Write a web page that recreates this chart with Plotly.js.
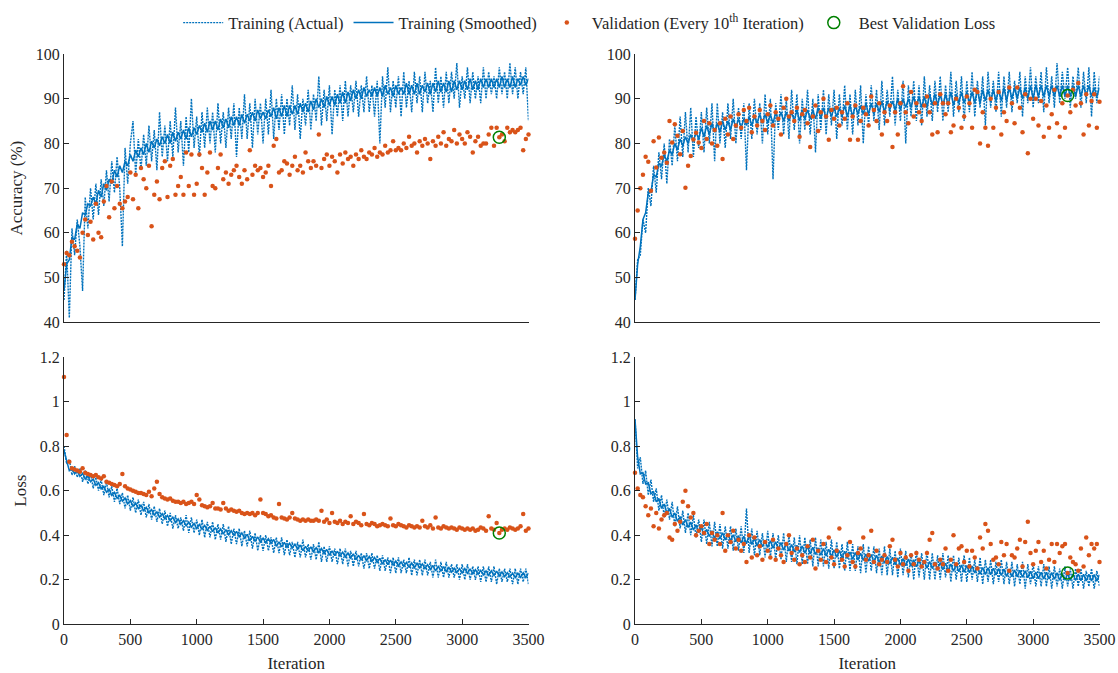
<!DOCTYPE html>
<html>
<head>
<meta charset="utf-8">
<script src="https://cdn.plot.ly/plotly-3.0.1.min.js"></script>
<style>html,body{margin:0;padding:0;background:#fff;}#chart{width:1118px;height:673px;}</style>
</head>
<body>
<div id="chart"></div>
<script>
// ---- iteration sampling ----
const TRAIN_STEP = 20;
const SMOOTH_STEP = 20;
const VAL_STEP = 20;

// ---- Accuracy, left run ----
const accTrainL = [
45,56,41,61,55,63,57,47,68,61,
70,63,71,64,72,66,74,67,76,69,
77,70,57,79,71,80,85,73,81,74,
82,75,84,76,83,74,87,77,84,76,
85,77,88,78,85,75,86,78,90,79,
86,77,87,79,88,80,87,78,89,80,
87,79,88,81,89,77,88,81,91,81,
89,79,90,82,89,80,90,82,92,81,
90,83,91,82,90,84,93,83,91,81,
90,84,92,83,91,85,95,84,92,85,
93,82,92,86,93,85,94,86,93,87,
94,86,93,87,95,87,93,86,94,80,
95,88,97,87,94,88,95,86,96,88,
94,87,96,89,95,87,96,89,94,87,
97,89,95,88,96,89,96,90,98,88,
95,90,97,89,96,90,95,89,97,90,
96,91,95,90,97,91,96,90,98,91,
97,90,96,91,97,85];
const accSmoothL = [
47,53,54,59,58.5,62,61,64.5,64,66.5,
66,68,66.5,69.5,68,71,69.5,72,71,74,
72.5,75,73.5,76,75,77.5,76,78.5,77,79,
77.5,80,78,80.5,79,81,79.5,81.5,80,82,
80,82.5,80.5,82.5,81,83,81,83.5,81.5,83.5,
82,84,82.5,84.5,82.5,85,83,85,83,85.5,
83.5,85.5,83.5,86,84,86,84,86.5,84.5,86.5,
85,87,85,87.5,85.5,87,85.5,87.5,86,88,
85.5,88,86,88.5,86,88.5,86.5,88.5,86.5,89,
87,89,87,89.5,87.5,90,88,90,88,90.5,
88.5,90.5,88.5,91,89,91.5,89,91.5,89.5,92,
90,92,90,92.5,90.5,92,90.5,92.5,90.5,92.5,
90.5,93,91,92.5,90.5,93,91,92.5,91,93.5,
91,93,91,93.5,91,93,91.5,93.5,91,93.5,
91.5,94,91.5,93.5,91.5,94,91.5,94,92,94,
92,94,92,94.5,92,94,92,94.5,92.5,94.5,
92.5,94.5,92.5,94.5,92.5,95,92.5,94.5,92.5,95,
92.5,94.5,93,95,93,94.5];
const accValL = [
53,55.5,55,58,57,56,54.5,60,63,59.5,
62.5,58.5,66.5,60,59,67,70.5,63.5,71.5,65.5,
70.5,66.5,65.5,67,68,73.5,67.5,73,65.5,74.5,
72,70,75,61.5,68.5,71.5,67.5,74.5,76,68,
75,76.5,68.5,70.5,72.5,68.5,78,70.5,77.5,68.5,
71,77.5,74.5,68.5,73.5,78,70.5,70,74.5,77.5,
72,73.5,71,73,74,75,72.5,71,74,72,
78.5,73,75,74,74.5,72.5,73.5,75,70.5,79.5,
81,73.5,74,76,75.5,73,75,77,74,75,
73.5,78,76,74.5,76,75,82,74.5,76.5,77.5,
75,77,76,73.5,77.5,75.5,78,76.5,77,75,
77.5,76.5,78.5,77,76.5,78,77.5,79,77,78,
77.5,79.5,78,78.5,80.5,78.5,79,78.5,80,79,
81.5,79.5,80,78,80.5,79.5,81,80,76.5,80.5,
79.5,81.5,80,82.5,79.5,81,80.5,83,80,82,
81,80,82.5,81.5,78,80.5,81.5,79.5,80,80,
82,83.5,79.5,83.5,81.4,82,80.5,83.5,82.5,83,
82.5,83,83.5,78.5,81,82];

// ---- Accuracy, right run ----
const accTrainR = [
45,54,55,63,60,70,66,75,69,78,
72,80,71,81,75,84,76,86,77,87,
78,88,77,86,79,87,78,88,80,89,
76,89,80,87,79,89,81,90,80,88,
81,89,74,89,81,90,82,89,80,91,
82,90,72,89,83,91,82,90,81,92,
83,91,80,90,83,92,82,90,78,91,
83,92,82,91,84,92,81,91,84,93,
83,91,82,92,84,93,80,91,84,93,
85,92,83,94,84,92,86,95,84,92,
85,94,80,93,86,94,85,93,84,95,
86,93,85,94,87,95,85,93,87,96,
86,94,87,95,85,94,87,96,86,94,
88,95,84,96,88,94,87,96,86,95,
88,96,87,94,89,96,86,95,89,97,
88,95,89,96,87,97,89,95,88,98,
89,96,90,97,88,95,90,97,88,96,
89,97,86,96,89,95];
const accSmoothR = [
45,53,57,63,64.5,69,69,73,72.5,75.5,
75,77.5,76,78.5,77.5,80,78.5,81,79.5,81.5,
80,82,80.5,82.5,81,83.5,81.5,84,82,84.5,
82.5,84.5,82.5,85,83,85,83,85.5,83.5,85.5,
83.5,85.5,84,86,84,86,84.5,86.5,84.5,86.5,
84.5,86.5,84.5,87,85,87,85,87,85,87,
85,87.5,85,87.5,85.5,87.5,85.5,87.5,85.5,88,
85.5,88,85.5,88,86,88,86,88,86,88.5,
86,88.5,86,88.5,86.5,88.5,86.5,89,86.5,89,
86.5,89,87,89.5,87,89.5,87.5,89.5,87.5,90,
87.5,90,88,90,88,90.5,88,90.5,88,90.5,
88,91,88.5,91,88.5,91,88.5,91,88.5,91.5,
88.5,91,89,91.5,89,91.5,89,91.5,89,92,
89,92,89.5,92,89.5,92,89.5,92,89.5,92.5,
89.5,92.5,90,92.5,90,92.5,90,92.5,90,93,
90,93,90.5,93,90.5,93,90.5,93,90.5,93,
90.5,93,90.5,93,90.5,93,90.5,93,90.5,93,
90.5,93,90.5,92.5,90.5,92.5];
const accValR = [
58.7,65,70,73,77,75.9,69.4,80.5,74.6,81.3,
76.8,78,75.7,85,80.2,84.3,81.7,77.6,82.8,70.1,
75,77.2,80.9,82.4,80.2,79,85,81,84.5,80,
83,79.5,84.5,76.5,85.5,82,86,81,84,86.5,
83.5,87.5,85,88,82.5,86,84,87.5,85,83,
86.5,88.5,84,87,85.5,82,88,90,86,87,
85,88,81.5,86.5,87.5,84.5,79.2,86,88.5,82.8,
87,90,86,80.8,87.5,85.5,88,84,87,85.5,
89,80.8,86,88.5,80.8,85,88,86.5,84,90.5,
87.5,85,89,82,87,85,88.5,79.2,87,82,
89,92.8,87,84.5,91.5,86,89,87,85,88.5,
90.5,87,82,89,82.5,91,89,86.5,89,82.5,
84,90,88,83.5,86,90.5,89,83.5,92,91.5,
80,87,83.5,79.5,90,83.5,88,91.5,82,87,
85,92.5,89,84.5,92.5,88,82.5,91,77.8,90,
85.5,90,84,89.5,81.5,88.5,83.5,86.5,92,84.5,
81.5,89,83.5,90.7,87,92,88.5,93.5,89,82,
91,84,89.5,91,83.5,89.3];

// ---- Loss, left run ----
const lossTrainL = [
0.80,0.72,0.74,0.67,0.71,0.66,0.70,0.64,0.69,0.63,
0.68,0.61,0.66,0.60,0.65,0.58,0.64,0.57,0.62,0.55,
0.61,0.54,0.59,0.52,0.58,0.51,0.57,0.50,0.56,0.49,
0.55,0.48,0.54,0.47,0.53,0.46,0.52,0.45,0.51,0.44,
0.50,0.43,0.49,0.43,0.48,0.42,0.49,0.41,0.48,0.41,
0.47,0.40,0.47,0.39,0.46,0.39,0.46,0.38,0.45,0.38,
0.45,0.37,0.44,0.36,0.43,0.36,0.43,0.35,0.42,0.35,
0.42,0.34,0.41,0.33,0.40,0.33,0.40,0.33,0.39,0.32,
0.39,0.32,0.39,0.31,0.38,0.31,0.37,0.30,0.37,0.30,
0.38,0.30,0.36,0.29,0.36,0.29,0.37,0.28,0.35,0.28,
0.35,0.28,0.34,0.27,0.34,0.27,0.34,0.26,0.33,0.26,
0.33,0.26,0.32,0.25,0.32,0.25,0.32,0.25,0.31,0.24,
0.31,0.24,0.30,0.23,0.30,0.23,0.30,0.23,0.29,0.23,
0.30,0.22,0.29,0.22,0.29,0.22,0.29,0.22,0.28,0.21,
0.29,0.21,0.28,0.21,0.28,0.21,0.27,0.21,0.27,0.20,
0.27,0.20,0.27,0.20,0.26,0.20,0.26,0.19,0.26,0.19,
0.26,0.19,0.26,0.18,0.25,0.19,0.25,0.19,0.25,0.18,
0.25,0.18,0.25,0.19,0.25,0.18];
const lossSmoothL = [
0.78,0.74,0.69,0.70,0.675,0.69,0.664,0.678,0.652,0.666,
0.64,0.652,0.624,0.636,0.608,0.62,0.593,0.606,0.579,0.592,
0.565,0.579,0.553,0.567,0.541,0.555,0.53,0.545,0.52,0.535,
0.51,0.525,0.50,0.515,0.49,0.505,0.481,0.497,0.473,0.489,
0.465,0.481,0.457,0.473,0.449,0.465,0.442,0.459,0.436,0.453,
0.43,0.448,0.426,0.444,0.422,0.44,0.416,0.434,0.41,0.428,
0.405,0.425,0.402,0.42,0.399,0.417,0.393,0.41,0.387,0.404,
0.375,0.395,0.372,0.392,0.369,0.387,0.366,0.384,0.363,0.381,
0.35,0.37,0.348,0.368,0.346,0.364,0.342,0.36,0.338,0.356,
0.33,0.35,0.328,0.348,0.326,0.344,0.322,0.34,0.318,0.336,
0.31,0.33,0.308,0.328,0.306,0.324,0.302,0.32,0.298,0.316,
0.29,0.31,0.288,0.308,0.286,0.304,0.282,0.30,0.278,0.296,
0.27,0.29,0.268,0.288,0.266,0.284,0.262,0.28,0.26,0.278,
0.255,0.275,0.254,0.274,0.253,0.271,0.25,0.268,0.246,0.264,
0.24,0.26,0.239,0.259,0.237,0.255,0.234,0.252,0.232,0.25,
0.23,0.25,0.229,0.249,0.227,0.245,0.224,0.242,0.222,0.24,
0.22,0.24,0.219,0.239,0.217,0.235,0.214,0.232,0.212,0.23,
0.21,0.23,0.211,0.231,0.21,0.23];
const lossValL = [
1.11,0.85,0.73,0.70,0.695,0.69,0.685,0.70,0.68,0.675,
0.67,0.665,0.67,0.66,0.655,0.665,0.64,0.635,0.63,0.625,
0.62,0.63,0.675,0.62,0.61,0.605,0.60,0.595,0.59,0.59,
0.585,0.58,0.595,0.575,0.61,0.64,0.585,0.57,0.565,0.56,
0.565,0.555,0.55,0.55,0.545,0.55,0.54,0.545,0.55,0.54,
0.58,0.56,0.535,0.53,0.525,0.53,0.545,0.52,0.52,0.515,
0.545,0.52,0.51,0.515,0.51,0.505,0.51,0.50,0.495,0.50,
0.495,0.50,0.49,0.50,0.56,0.50,0.495,0.485,0.49,0.48,
0.475,0.54,0.48,0.475,0.47,0.48,0.50,0.475,0.47,0.465,
0.47,0.465,0.47,0.465,0.465,0.47,0.465,0.51,0.46,0.47,
0.455,0.50,0.46,0.455,0.465,0.45,0.46,0.455,0.485,0.45,
0.46,0.455,0.445,0.495,0.45,0.445,0.455,0.45,0.44,0.445,
0.45,0.445,0.44,0.475,0.445,0.44,0.45,0.445,0.44,0.435,
0.445,0.44,0.435,0.44,0.435,0.465,0.44,0.435,0.445,0.43,
0.48,0.435,0.43,0.44,0.435,0.43,0.435,0.43,0.425,0.435,
0.43,0.425,0.43,0.425,0.43,0.42,0.425,0.435,0.43,0.42,
0.485,0.43,0.425,0.455,0.41,0.425,0.43,0.425,0.435,0.43,
0.425,0.43,0.44,0.495,0.42,0.43];

// ---- Loss, right run ----
const lossTrainR = [
0.92,0.70,0.75,0.63,0.69,0.58,0.65,0.55,0.61,0.51,
0.58,0.48,0.56,0.47,0.55,0.44,0.53,0.43,0.51,0.41,
0.50,0.40,0.49,0.39,0.47,0.37,0.47,0.36,0.46,0.35,
0.46,0.35,0.45,0.34,0.44,0.34,0.44,0.33,0.43,0.33,
0.44,0.32,0.52,0.32,0.43,0.31,0.42,0.31,0.41,0.30,
0.42,0.30,0.41,0.29,0.40,0.29,0.41,0.28,0.40,0.28,
0.39,0.27,0.40,0.27,0.39,0.27,0.38,0.26,0.39,0.26,
0.38,0.26,0.37,0.25,0.38,0.25,0.37,0.25,0.36,0.24,
0.37,0.24,0.36,0.24,0.35,0.23,0.36,0.23,0.35,0.24,
0.35,0.23,0.34,0.22,0.35,0.22,0.34,0.22,0.33,0.21,
0.34,0.22,0.33,0.21,0.32,0.20,0.33,0.21,0.32,0.20,
0.33,0.20,0.32,0.20,0.31,0.20,0.32,0.21,0.31,0.19,
0.31,0.20,0.30,0.19,0.31,0.19,0.30,0.20,0.29,0.19,
0.30,0.18,0.29,0.19,0.29,0.18,0.28,0.19,0.29,0.18,
0.28,0.18,0.28,0.17,0.27,0.18,0.28,0.16,0.27,0.18,
0.27,0.17,0.26,0.17,0.27,0.17,0.26,0.16,0.26,0.17,
0.25,0.16,0.26,0.17,0.25,0.16,0.25,0.17,0.25,0.16,
0.24,0.17,0.25,0.16,0.24,0.17];
const lossSmoothR = [
0.92,0.75,0.675,0.68,0.63,0.635,0.585,0.595,0.55,0.565,
0.52,0.54,0.50,0.52,0.48,0.50,0.462,0.484,0.446,0.47,
0.435,0.459,0.423,0.447,0.411,0.435,0.40,0.426,0.394,0.42,
0.385,0.415,0.383,0.411,0.379,0.405,0.375,0.402,0.371,0.398,
0.365,0.395,0.362,0.40,0.358,0.385,0.352,0.381,0.348,0.376,
0.345,0.375,0.341,0.371,0.337,0.367,0.333,0.363,0.329,0.358,
0.325,0.355,0.322,0.352,0.319,0.349,0.316,0.346,0.313,0.343,
0.31,0.34,0.307,0.337,0.304,0.334,0.301,0.331,0.298,0.328,
0.295,0.325,0.292,0.322,0.289,0.319,0.286,0.316,0.283,0.313,
0.28,0.31,0.277,0.307,0.274,0.304,0.271,0.301,0.268,0.298,
0.265,0.295,0.263,0.293,0.261,0.29,0.258,0.287,0.255,0.284,
0.252,0.282,0.25,0.28,0.248,0.277,0.245,0.274,0.242,0.271,
0.238,0.268,0.236,0.266,0.234,0.264,0.232,0.262,0.23,0.26,
0.225,0.255,0.224,0.254,0.223,0.252,0.221,0.25,0.219,0.248,
0.215,0.245,0.214,0.244,0.213,0.242,0.211,0.24,0.209,0.238,
0.205,0.235,0.205,0.234,0.204,0.233,0.203,0.232,0.202,0.231,
0.198,0.228,0.198,0.227,0.197,0.226,0.197,0.226,0.196,0.225,
0.195,0.224,0.195,0.223,0.194,0.222];
const lossValR = [
0.68,0.61,0.58,0.57,0.53,0.49,0.52,0.44,0.50,0.43,
0.47,0.49,0.50,0.39,0.38,0.45,0.42,0.46,0.55,0.60,
0.53,0.48,0.50,0.40,0.42,0.44,0.41,0.45,0.36,0.41,
0.38,0.40,0.36,0.50,0.33,0.40,0.37,0.42,0.34,0.38,
0.33,0.36,0.28,0.40,0.30,0.39,0.31,0.35,0.29,0.37,
0.33,0.30,0.38,0.29,0.34,0.31,0.28,0.36,0.40,0.32,
0.29,0.34,0.27,0.31,0.28,0.35,0.30,0.38,0.25,0.33,
0.29,0.36,0.28,0.39,0.30,0.27,0.33,0.43,0.29,0.26,
0.31,0.37,0.28,0.26,0.32,0.34,0.39,0.29,0.31,0.42,
0.28,0.33,0.27,0.29,0.31,0.28,0.35,0.38,0.29,0.26,
0.32,0.27,0.30,0.24,0.31,0.27,0.32,0.29,0.26,0.28,
0.32,0.38,0.41,0.27,0.25,0.29,0.27,0.34,0.24,0.29,
0.40,0.27,0.34,0.35,0.28,0.33,0.26,0.33,0.30,0.25,
0.39,0.34,0.45,0.42,0.36,0.29,0.30,0.27,0.37,0.31,
0.36,0.24,0.31,0.30,0.34,0.38,0.26,0.37,0.46,0.32,
0.27,0.33,0.37,0.28,0.33,0.25,0.29,0.36,0.28,0.36,
0.32,0.35,0.36,0.23,0.30,0.28,0.27,0.24,0.34,0.26,
0.39,0.31,0.36,0.34,0.36,0.28];

// ---- Best validation loss (left run, right run) ----
const bestIter = [3280, 3260];
const bestAcc = [81.4, 90.7];
const bestLoss = [0.41, 0.23];

// ---- labels ----
const legendNames = ['Training (Actual)', 'Training (Smoothed)', 'Validation (Every 10<sup>th</sup> Iteration)', 'Best Validation Loss'];
const xTitle = 'Iteration';
const yTitleAcc = 'Accuracy (%)';
const yTitleLoss = 'Loss';

function iters(arr, step) { return arr.map((_, i) => i * step); }

const BLUE = '#0072BD', ORANGE = '#D95319', GREEN = '#008000';
const FONT = 'Liberation Serif, Times New Roman, serif';
const INK = '#262626';

function panel(train, smooth, val, bi, bv, xa, ya, showLeg) {
  return [
    {x: iters(train, TRAIN_STEP), y: train, xaxis: xa, yaxis: ya, type: 'scatter', mode: 'lines',
     line: {color: BLUE, width: 1.4, dash: '2px,1px'}, name: legendNames[0], showlegend: showLeg},
    {x: iters(smooth, SMOOTH_STEP), y: smooth, xaxis: xa, yaxis: ya, type: 'scatter', mode: 'lines',
     line: {color: BLUE, width: 1.5}, name: legendNames[1], showlegend: showLeg},
    {x: iters(val, VAL_STEP), y: val, xaxis: xa, yaxis: ya, type: 'scatter', mode: 'markers',
     marker: {color: ORANGE, size: 4.5}, cliponaxis: false, name: legendNames[2], showlegend: showLeg},
    {x: [bi], y: [bv], xaxis: xa, yaxis: ya, type: 'scatter', mode: 'markers',
     marker: {symbol: 'circle-open', color: GREEN, size: 12, line: {width: 1.5, color: GREEN}},
     cliponaxis: false, name: legendNames[3], showlegend: showLeg}
  ];
}

const data = [].concat(
  panel(accTrainL, accSmoothL, accValL, bestIter[0], bestAcc[0], 'x', 'y', true),
  panel(accTrainR, accSmoothR, accValR, bestIter[1], bestAcc[1], 'x2', 'y2', false),
  panel(lossTrainL, lossSmoothL, lossValL, bestIter[0], bestLoss[0], 'x3', 'y3', false),
  panel(lossTrainR, lossSmoothR, lossValR, bestIter[1], bestLoss[1], 'x4', 'y4', false)
);

const dxL = [64/1118, 528.5/1118];
const dxR = [635/1118, 1099.5/1118];
const dyT = [(673-322.3)/673, (673-54)/673];
const dyB = [(673-624.3)/673, (673-357)/673];

function xa(domain, anchor, labels) {
  const a = {domain: domain, anchor: anchor, range: [0, 3500], dtick: 500, tick0: 0,
    showline: true, linecolor: INK, linewidth: 1, zeroline: false, showgrid: false,
    ticks: labels ? 'inside' : '', ticklen: 5, tickcolor: INK, showticklabels: labels,
    tickfont: {family: FONT, size: 16, color: INK}};
  if (labels) a.title = {text: xTitle, font: {family: FONT, size: 17, color: INK}, standoff: 10};
  return a;
}
function ya(domain, anchor, range, dtick, title) {
  const a = {domain: domain, anchor: anchor, range: range, dtick: dtick,
    showline: true, linecolor: INK, linewidth: 1, zeroline: false, showgrid: false,
    ticks: 'inside', ticklen: 5, tickcolor: INK,
    tickfont: {family: FONT, size: 16, color: INK}};
  if (title) a.title = {text: title, font: {family: FONT, size: 17, color: INK}, standoff: 8};
  return a;
}

const layout = {
  width: 1118, height: 673,
  margin: {l: 0, r: 0, t: 0, b: 0},
  paper_bgcolor: '#fff', plot_bgcolor: '#fff',
  font: {family: FONT, color: INK},
  showlegend: true,
  legend: {orientation: 'h', x: 0.527, xanchor: 'center', y: 0.992, yanchor: 'top',
    font: {family: FONT, size: 16.5, color: INK}, bgcolor: 'rgba(0,0,0,0)', itemwidth: 40},
  xaxis: xa(dxL, 'y', false),
  yaxis: ya(dyT, 'x', [40, 100], 10, yTitleAcc),
  xaxis2: xa(dxR, 'y2', false),
  yaxis2: ya(dyT, 'x2', [40, 100], 10, null),
  xaxis3: xa(dxL, 'y3', true),
  yaxis3: ya(dyB, 'x3', [0, 1.2], 0.2, yTitleLoss),
  xaxis4: xa(dxR, 'y4', true),
  yaxis4: ya(dyB, 'x4', [0, 1.2], 0.2, null)
};

Plotly.newPlot('chart', data, layout, {staticPlot: true, displayModeBar: false});
</script>
</body>
</html>
